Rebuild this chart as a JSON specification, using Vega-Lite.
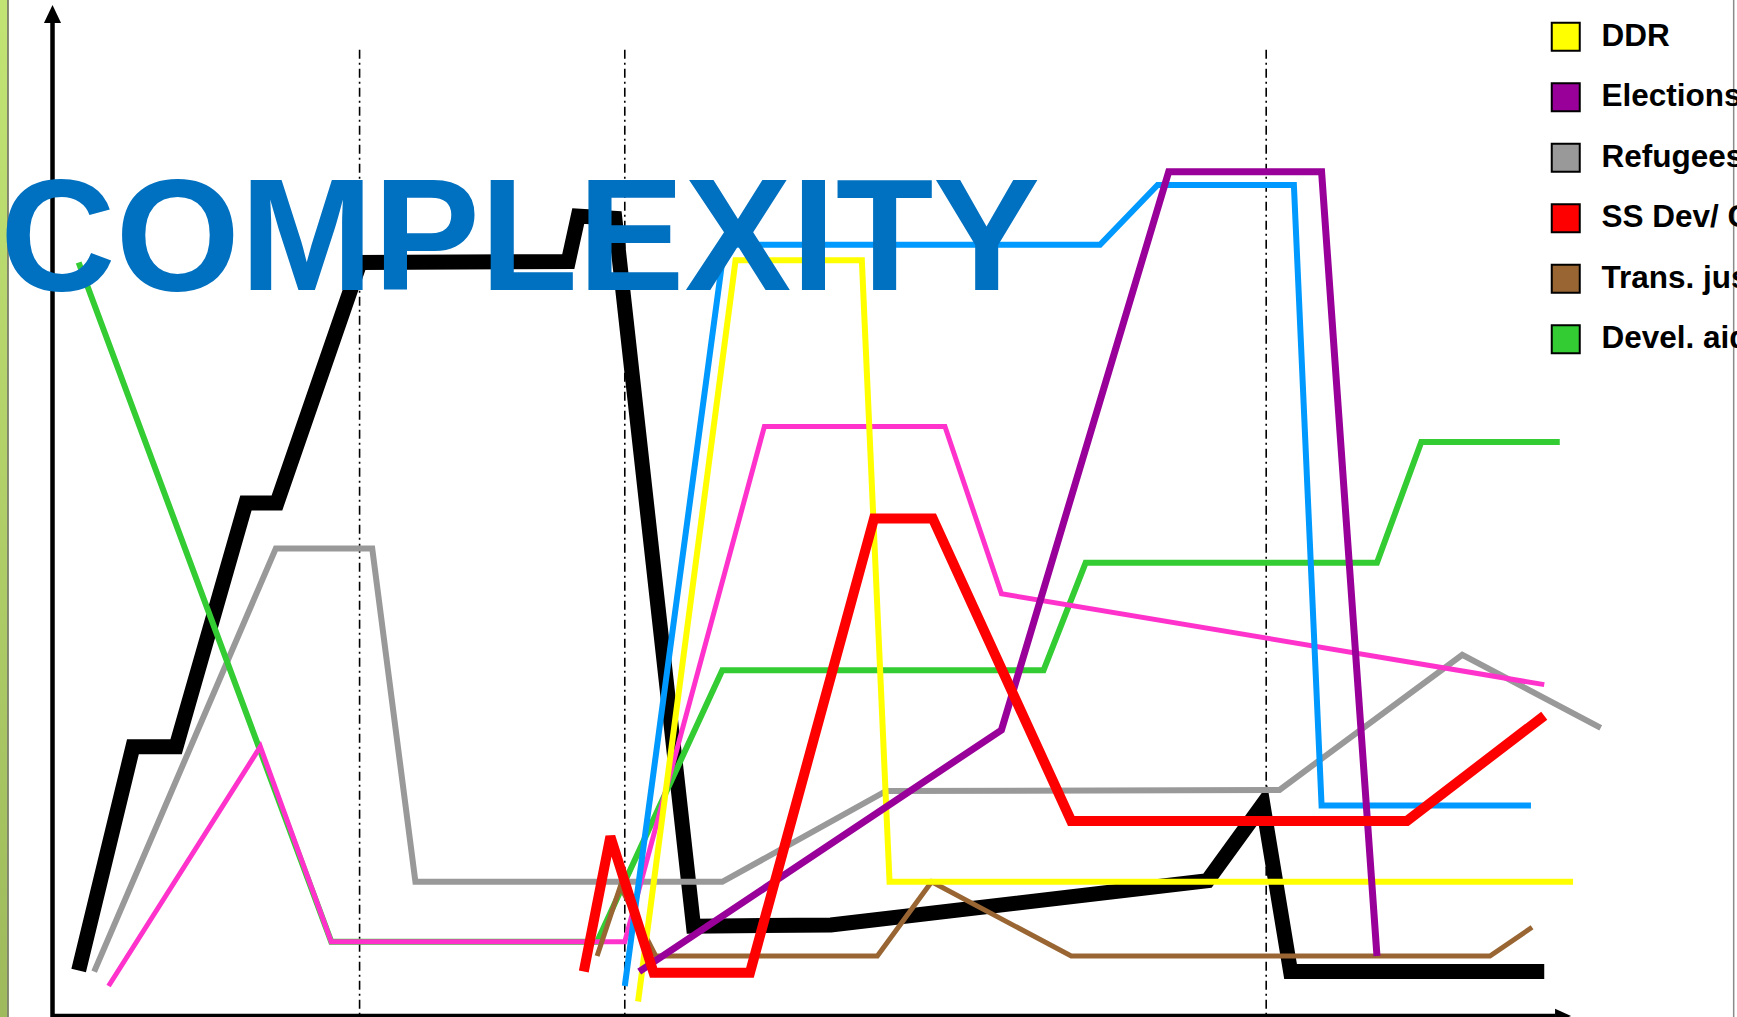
{
  "$schema": "https://vega.github.io/schema/vega-lite/v6.json",
  "width": 1737,
  "height": 1017,
  "autosize": {"type": "none"},
  "padding": 0,
  "background": "white",
  "config": {"view": {"stroke": null}},
  "datasets": {
    "lines": [
      {"s":"Security","i":0,"x":25,"y":39},{"s":"Security","i":1,"x":74,"y":241},{"s":"Security","i":2,"x":113,"y":241},{"s":"Security","i":3,"x":176,"y":461},{"s":"Security","i":4,"x":204,"y":461},{"s":"Security","i":5,"x":279,"y":678},{"s":"Security","i":6,"x":467,"y":679},{"s":"Security","i":7,"x":476,"y":720},{"s":"Security","i":8,"x":509,"y":718},{"s":"Security","i":9,"x":580,"y":79},{"s":"Security","i":10,"x":704,"y":80},{"s":"Security","i":11,"x":1044,"y":120},{"s":"Security","i":12,"x":1094,"y":189},{"s":"Security","i":13,"x":1119,"y":38},{"s":"Security","i":14,"x":1348,"y":38},
      {"s":"Refugees","i":0,"x":39,"y":38},{"s":"Refugees","i":1,"x":203,"y":420},{"s":"Refugees","i":2,"x":290,"y":420},{"s":"Refugees","i":3,"x":329,"y":119},{"s":"Refugees","i":4,"x":606,"y":119},{"s":"Refugees","i":5,"x":754,"y":201},{"s":"Refugees","i":6,"x":1109,"y":202},{"s":"Refugees","i":7,"x":1274,"y":324},{"s":"Refugees","i":8,"x":1399,"y":258},
      {"s":"Devel. aid","i":0,"x":25,"y":678},{"s":"Devel. aid","i":1,"x":253,"y":65},{"s":"Devel. aid","i":2,"x":493,"y":65},{"s":"Devel. aid","i":3,"x":606,"y":310},{"s":"Devel. aid","i":4,"x":896,"y":310},{"s":"Devel. aid","i":5,"x":934,"y":407},{"s":"Devel. aid","i":6,"x":1197,"y":407},{"s":"Devel. aid","i":7,"x":1237,"y":516},{"s":"Devel. aid","i":8,"x":1362,"y":516},
      {"s":"Humanitarian","i":0,"x":52,"y":25},{"s":"Humanitarian","i":1,"x":189,"y":241},{"s":"Humanitarian","i":2,"x":253,"y":65},{"s":"Humanitarian","i":3,"x":518,"y":65},{"s":"Humanitarian","i":4,"x":644,"y":530},{"s":"Humanitarian","i":5,"x":807,"y":530},{"s":"Humanitarian","i":6,"x":858,"y":379},{"s":"Humanitarian","i":7,"x":1348,"y":297},
      {"s":"Trans. justice","i":0,"x":493,"y":52},{"s":"Trans. justice","i":1,"x":514,"y":115},{"s":"Trans. justice","i":2,"x":546,"y":52},{"s":"Trans. justice","i":3,"x":746,"y":52},{"s":"Trans. justice","i":4,"x":795,"y":119},{"s":"Trans. justice","i":5,"x":921,"y":52},{"s":"Trans. justice","i":6,"x":1299,"y":52},{"s":"Trans. justice","i":7,"x":1337,"y":78},
      {"s":"DDR","i":0,"x":530,"y":11},{"s":"DDR","i":1,"x":618,"y":680},{"s":"DDR","i":2,"x":732,"y":680},{"s":"DDR","i":3,"x":757,"y":119},{"s":"DDR","i":4,"x":1374,"y":119},
      {"s":"Peacekeeping","i":0,"x":518,"y":25},{"s":"Peacekeeping","i":1,"x":608,"y":694},{"s":"Peacekeeping","i":2,"x":947,"y":694},{"s":"Peacekeeping","i":3,"x":999,"y":748},{"s":"Peacekeeping","i":4,"x":1122,"y":748},{"s":"Peacekeeping","i":5,"x":1147,"y":188},{"s":"Peacekeeping","i":6,"x":1336,"y":188},
      {"s":"Elections","i":0,"x":531,"y":38},{"s":"Elections","i":1,"x":858,"y":256},{"s":"Elections","i":2,"x":1009,"y":760},{"s":"Elections","i":3,"x":1147,"y":760},{"s":"Elections","i":4,"x":1197,"y":52},
      {"s":"SS Dev/ Coord.","i":0,"x":481,"y":38},{"s":"SS Dev/ Coord.","i":1,"x":505,"y":160},{"s":"SS Dev/ Coord.","i":2,"x":544,"y":37},{"s":"SS Dev/ Coord.","i":3,"x":631,"y":37},{"s":"SS Dev/ Coord.","i":4,"x":743,"y":447},{"s":"SS Dev/ Coord.","i":5,"x":796,"y":447},{"s":"SS Dev/ Coord.","i":6,"x":921,"y":174},{"s":"SS Dev/ Coord.","i":7,"x":1224,"y":174},{"s":"SS Dev/ Coord.","i":8,"x":1348,"y":269}
    ],
    "phases": [{"x": 278.6}, {"x": 518}, {"x": 1097}]
  },
  "layer": [
    {
      "data": {"values": [{"x0": -46, "x1": -39.7, "y0": -3, "y1": 915}]},
      "mark": {"type": "rect", "fill": {"gradient": "linear", "x1": 0, "y1": 0, "x2": 0, "y2": 1, "stops": [{"offset": 0, "color": "#c2e474"}, {"offset": 1, "color": "#9eba5c"}]}},
      "encoding": {
        "x": {"field": "x0", "type": "quantitative", "scale": {"domain": [-46, 1522], "nice": false, "zero": false}, "axis": null},
        "x2": {"field": "x1"},
        "y": {"field": "y0", "type": "quantitative", "scale": {"domain": [-3, 915], "nice": false, "zero": false}, "axis": null},
        "y2": {"field": "y1"}
      }
    },
    {
      "data": {"values": [{"x": -38.8, "c": "strip"}, {"x": 1519, "c": "edge"}]},
      "mark": {"type": "rule", "strokeWidth": 1.5},
      "encoding": {
        "x": {"field": "x", "type": "quantitative"},
        "y": {"datum": -3},
        "y2": {"datum": 915},
        "stroke": {"field": "c", "type": "nominal", "scale": {"domain": ["strip", "edge"], "range": ["#5b6442", "#8a8a8a"]}, "legend": null}
      }
    },
    {
      "data": {"name": "phases"},
      "mark": {"type": "rule", "stroke": "black", "strokeWidth": 1.6, "strokeDash": [9, 4, 2, 4]},
      "encoding": {
        "x": {"field": "x", "type": "quantitative"},
        "y": {"datum": 870},
        "y2": {"datum": -3}
      }
    },
    {
      "data": {"values": [{"a": "y", "x0": 1.4, "x1": 1.4, "y0": -3, "y1": 896}, {"a": "x", "x0": 1.4, "x1": 1358, "y0": -2, "y1": -2}]},
      "mark": {"type": "rule", "stroke": "black", "strokeWidth": 4.5},
      "encoding": {
        "x": {"field": "x0", "type": "quantitative"},
        "x2": {"field": "x1"},
        "y": {"field": "y0", "type": "quantitative"},
        "y2": {"field": "y1"}
      }
    },
    {
      "data": {"values": [{"x": 1.4, "y": 902.4}]},
      "mark": {"type": "point", "shape": "M0,-1L-0.95,1L0.95,1Z", "size": 324, "filled": true, "fill": "black", "opacity": 1},
      "encoding": {
        "x": {"field": "x", "type": "quantitative"},
        "y": {"field": "y", "type": "quantitative"}
      }
    },
    {
      "data": {"values": [{"x": 1365, "y": -2}]},
      "mark": {"type": "point", "shape": "M1,0L-1,-0.9L-1,0.9Z", "size": 256, "filled": true, "fill": "black", "opacity": 1},
      "encoding": {
        "x": {"field": "x", "type": "quantitative"},
        "y": {"field": "y", "type": "quantitative"}
      }
    },
    {
      "data": {"name": "lines"},
      "mark": {"type": "line", "strokeCap": "butt", "strokeJoin": "miter"},
      "encoding": {
        "x": {"field": "x", "type": "quantitative"},
        "y": {"field": "y", "type": "quantitative"},
        "order": {"field": "i", "type": "quantitative"},
        "color": {
          "field": "s", "type": "nominal",
          "scale": {
            "domain": ["DDR", "Elections", "Refugees", "SS Dev/ Coord.", "Trans. justice", "Devel. aid", "Security", "Humanitarian", "Peacekeeping"],
            "range": ["#ffff00", "#990099", "#999999", "#ff0000", "#996633", "#33cc33", "#000000", "#ff33cc", "#0099ff"]
          },
          "legend": null
        },
        "strokeWidth": {
          "field": "s", "type": "nominal",
          "scale": {
            "type": "ordinal",
            "domain": ["DDR", "Elections", "Refugees", "SS Dev/ Coord.", "Trans. justice", "Devel. aid", "Security", "Humanitarian", "Peacekeeping"],
            "range": [6, 7, 6, 10, 5, 6, 15, 5, 6]
          },
          "legend": null
        }
      }
    },
    {
      "data": {"name": "lines"},
      "transform": [{"filter": "false"}],
      "mark": {"type": "point", "shape": "square", "filled": true, "stroke": "black", "strokeWidth": 2, "opacity": 1},
      "encoding": {
        "x": {"field": "x", "type": "quantitative"},
        "y": {"field": "y", "type": "quantitative"},
        "fill": {
          "field": "s", "type": "nominal",
          "scale": {
            "domain": ["DDR", "Elections", "Refugees", "SS Dev/ Coord.", "Trans. justice", "Devel. aid"],
            "range": ["#ffff00", "#990099", "#999999", "#ff0000", "#996633", "#33cc33"]
          },
          "legend": {
            "orient": "none",
            "legendX": 1550,
            "legendY": 21,
            "title": null,
            "padding": 0,
            "direction": "vertical",
            "symbolType": "square",
            "symbolSize": 784,
            "symbolStrokeWidth": 2,
            "symbolStrokeColor": "black",
            "symbolOpacity": 1,
            "labelFont": "Liberation Sans",
            "labelFontWeight": "bold",
            "labelFontSize": 31.5,
            "labelColor": "black",
            "labelOffset": 20,
            "labelLimit": 1000,
            "rowPadding": 23.5,
            "encode": {
              "symbols": {"update": {"stroke": {"value": "black"}, "strokeWidth": {"value": 2}, "opacity": {"value": 1}}}
            }
          }
        }
      }
    },
    {
      "data": {"values": [{"x": -46, "y": 652.8, "label": "COMPLEXITY"}]},
      "mark": {"type": "text", "align": "left", "baseline": "alphabetic", "font": "Liberation Sans", "fontWeight": "bold", "fontSize": 160, "fill": "#0070c0"},
      "encoding": {
        "x": {"field": "x", "type": "quantitative"},
        "y": {"field": "y", "type": "quantitative"},
        "text": {"field": "label"}
      }
    }
  ]
}
